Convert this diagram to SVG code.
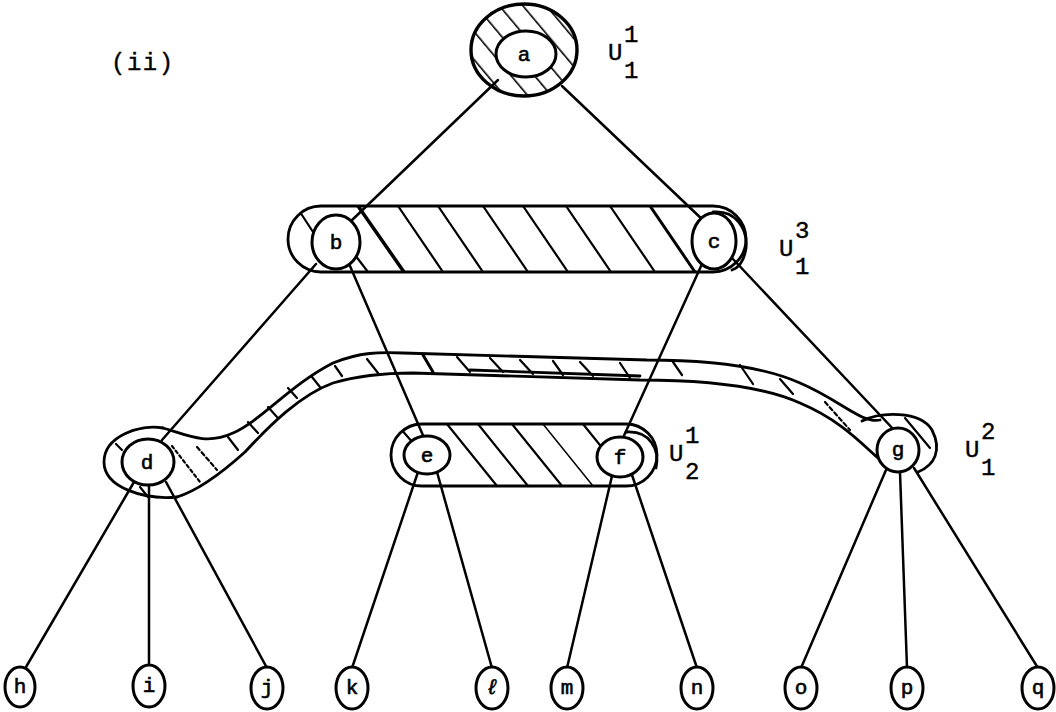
<svg xmlns="http://www.w3.org/2000/svg" width="1056" height="712" viewBox="0 0 1056 712">
<style>
.s{fill:none;stroke:#000;stroke-width:2.8;stroke-linecap:round;stroke-linejoin:round}
.t{stroke:#000;stroke-width:2.2;stroke-linecap:round}
.n{fill:#fff;stroke:#000;stroke-width:3}
.l{font-family:"Liberation Mono","DejaVu Sans Mono",monospace;font-size:21px;text-anchor:middle;fill:#000;stroke:#000;stroke-width:0.6}
.u{font-family:"Liberation Mono","DejaVu Sans Mono",monospace;font-size:24px;fill:#000;stroke:#000;stroke-width:0.4}
.c{stroke:#000;stroke-width:2.5;fill:none;stroke-linecap:round}
</style>
<defs>
<pattern id="hatchA" width="18" height="18" patternUnits="userSpaceOnUse" patternTransform="rotate(-40)">
<line x1="0" y1="0" x2="0" y2="18" stroke="#000" stroke-width="3.2"/>
</pattern>
<clipPath id="clipBC"><rect x="288" y="206" width="458" height="66" rx="33"/></clipPath>
<clipPath id="clipEF"><rect x="391" y="424" width="266" height="62" rx="31"/></clipPath>
</defs>

<text class="u" x="111" y="70" font-size="21" letter-spacing="1.5">(ii)</text>

<g id="connectors">
<line class="c" x1="498" y1="80" x2="350" y2="222"/>
<line class="c" x1="562" y1="86" x2="705" y2="222"/>
<line class="c" x1="316" y1="264" x2="162" y2="440"/>
<line class="c" x1="350" y1="266" x2="425" y2="440"/>
<line class="c" x1="702" y1="264" x2="622" y2="440"/>
<line class="c" x1="732" y1="258" x2="896" y2="432"/>
<line class="c" x1="134" y1="482" x2="26" y2="667"/>
<line class="c" x1="149" y1="486" x2="149" y2="666"/>
<line class="c" x1="166" y1="482" x2="267" y2="668"/>
<line class="c" x1="418" y1="472" x2="352" y2="668"/>
<line class="c" x1="437" y1="472" x2="492" y2="668"/>
<line class="c" x1="612" y1="476" x2="567" y2="668"/>
<line class="c" x1="632" y1="475" x2="697" y2="668"/>
<line class="c" x1="886" y1="470" x2="801" y2="668"/>
<line class="c" x1="900" y1="472" x2="907" y2="668"/>
<line class="c" x1="914" y1="468" x2="1038" y2="668"/>
</g>

<g id="hyperedge-U13">
<rect x="288" y="206" width="458" height="66" rx="33" class="s" stroke-width="3"/>
<g clip-path="url(#clipBC)" class="t">
<line x1="358" y1="206" x2="404" y2="272" stroke-width="3.5"/>
<line x1="398" y1="206" x2="443" y2="272"/>
<line x1="438" y1="206" x2="483" y2="272"/>
<line x1="483" y1="206" x2="528" y2="272"/>
<line x1="523" y1="206" x2="568" y2="272"/>
<line x1="566" y1="206" x2="611" y2="272"/>
<line x1="610" y1="206" x2="655" y2="272"/>
<line x1="650" y1="206" x2="695" y2="272" stroke-width="3"/>
<line x1="300" y1="212" x2="315" y2="235"/>
<line x1="355" y1="255" x2="368" y2="272"/>
</g>
<path class="s" d="M 713 212 C 735 210, 748 228, 746 248 C 744 262, 738 268, 732 270"/>
</g>

<g id="hyperedge-U21">
<rect x="391" y="424" width="266" height="62" rx="31" class="s" stroke-width="3"/>
<g clip-path="url(#clipEF)" class="t">
<line x1="447" y1="424" x2="497" y2="486"/>
<line x1="478" y1="424" x2="528" y2="486"/>
<line x1="512" y1="424" x2="562" y2="486"/>
<line x1="543" y1="424" x2="593" y2="486" stroke-width="1.5"/>
<line x1="583" y1="424" x2="620" y2="470"/>
<line x1="400" y1="428" x2="414" y2="444"/>
</g>
<path class="s" d="M 626 432 C 650 430, 660 450, 656 468"/>
</g>

<g id="hyperedge-U12">
<path class="s" d="M 163 428 C 140 424, 104 436, 104 462 C 104 488, 145 500, 177 497"/>
<path class="s" d="M 163 428 C 185 434, 205 446, 233 433 C 262 420, 290 385, 333 363 C 360 352, 380 352, 403 353 L 647 360 C 700 360, 760 365, 800 383 C 840 400, 862 424, 880 420"/>
<path class="s" d="M 177 497 C 200 490, 225 470, 245 452 C 270 425, 300 395, 333 383 C 360 375, 390 373, 413 373 L 640 380 C 700 380, 760 385, 800 403 C 840 420, 860 442, 878 458"/>
<path class="s" d="M 862 421 C 880 412, 920 410, 932 430 C 942 450, 935 465, 918 472"/>
<path class="s" stroke-width="3" d="M 470 370 L 640 376"/>
<g class="t">
<line x1="197" y1="447" x2="217" y2="470" stroke-dasharray="4 3"/>
<line x1="172" y1="446" x2="200" y2="482" stroke-dasharray="3 3"/>
<line x1="228" y1="437" x2="238" y2="450"/>
<line x1="248" y1="422" x2="258" y2="433"/>
<line x1="268" y1="407" x2="277" y2="417"/>
<line x1="288" y1="388" x2="297" y2="398"/>
<line x1="312" y1="377" x2="320" y2="387"/>
<line x1="335" y1="366" x2="342" y2="376"/>
<line x1="367" y1="359" x2="378" y2="373"/>
<line x1="423" y1="355" x2="433" y2="372" stroke-width="3"/>
<line x1="457" y1="357" x2="470" y2="372"/>
<line x1="490" y1="358" x2="503" y2="372"/>
<line x1="520" y1="360" x2="533" y2="374"/>
<line x1="553" y1="361" x2="563" y2="375"/>
<line x1="580" y1="362" x2="593" y2="376"/>
<line x1="620" y1="363" x2="630" y2="378"/>
<line x1="673" y1="362" x2="682" y2="375"/>
<line x1="740" y1="365" x2="753" y2="384"/>
<line x1="780" y1="379" x2="793" y2="394"/>
<line x1="825" y1="402" x2="850" y2="430" stroke-dasharray="4 3"/>
<line x1="905" y1="418" x2="930" y2="448"/>
<line x1="116" y1="444" x2="122" y2="450"/>
<line x1="140" y1="487" x2="148" y2="497"/>
</g>
</g>

<g id="node-a">
<ellipse cx="524" cy="50" rx="53" ry="46" fill="url(#hatchA)" stroke="#000" stroke-width="3.4"/>
<ellipse cx="526" cy="54" rx="30" ry="23" class="n"/>
<text class="l" x="524" y="61">a</text>
</g>
<g id="label-U11">
<text class="u" x="608" y="60">U</text>
<text class="u" x="624" y="42">1</text>
<text class="u" x="624" y="78">1</text>
</g>

<g id="node-b"><ellipse cx="336" cy="242" rx="24" ry="27" class="n"/><text class="l" x="336" y="249">b</text></g>
<g id="node-c"><ellipse cx="714" cy="241" rx="22" ry="28" class="n"/><text class="l" x="714" y="248">c</text></g>
<g id="label-U13">
<text class="u" x="779" y="256">U</text>
<text class="u" x="795" y="238">3</text>
<text class="u" x="795" y="274">1</text>
</g>

<g id="node-d"><ellipse cx="148" cy="462" rx="26" ry="23" class="n"/><text class="l" x="147" y="469">d</text></g>
<g id="node-e"><ellipse cx="427" cy="455" rx="23" ry="19" class="n"/><text class="l" x="427" y="462">e</text></g>
<g id="node-f"><ellipse cx="620" cy="457" rx="23" ry="20" class="n"/><text class="l" x="620" y="464">f</text></g>
<g id="label-U21">
<text class="u" x="669" y="461">U</text>
<text class="u" x="685" y="443">1</text>
<text class="u" x="685" y="479">2</text>
</g>
<g id="node-g"><ellipse cx="898" cy="450" rx="21" ry="22" class="n"/><text class="l" x="898" y="456">g</text></g>
<g id="label-U12">
<text class="u" x="965" y="457">U</text>
<text class="u" x="981" y="439">2</text>
<text class="u" x="981" y="475">1</text>
</g>

<g id="node-h"><ellipse cx="20" cy="687" rx="15" ry="20" class="n"/><text class="l" x="20" y="693">h</text></g>
<g id="node-i"><ellipse cx="149" cy="686" rx="16" ry="21" class="n"/><text class="l" x="149" y="692">i</text></g>
<g id="node-j"><ellipse cx="267" cy="688" rx="16" ry="21" class="n"/><text class="l" x="267" y="694">j</text></g>
<g id="node-k"><ellipse cx="352" cy="688" rx="16" ry="21" class="n"/><text class="l" x="352" y="694">k</text></g>
<g id="node-l"><ellipse cx="492" cy="688" rx="16" ry="21" class="n"/><text class="l" x="492" y="694" font-style="italic">ℓ</text></g>
<g id="node-m"><ellipse cx="567" cy="688" rx="16" ry="21" class="n"/><text class="l" x="567" y="694">m</text></g>
<g id="node-n"><ellipse cx="697" cy="688" rx="16" ry="21" class="n"/><text class="l" x="697" y="694">n</text></g>
<g id="node-o"><ellipse cx="801" cy="688" rx="16" ry="21" class="n"/><text class="l" x="801" y="694">o</text></g>
<g id="node-p"><ellipse cx="907" cy="688" rx="16" ry="21" class="n"/><text class="l" x="907" y="694">p</text></g>
<g id="node-q"><ellipse cx="1038" cy="688" rx="16" ry="21" class="n"/><text class="l" x="1038" y="694">q</text></g>
</svg>
